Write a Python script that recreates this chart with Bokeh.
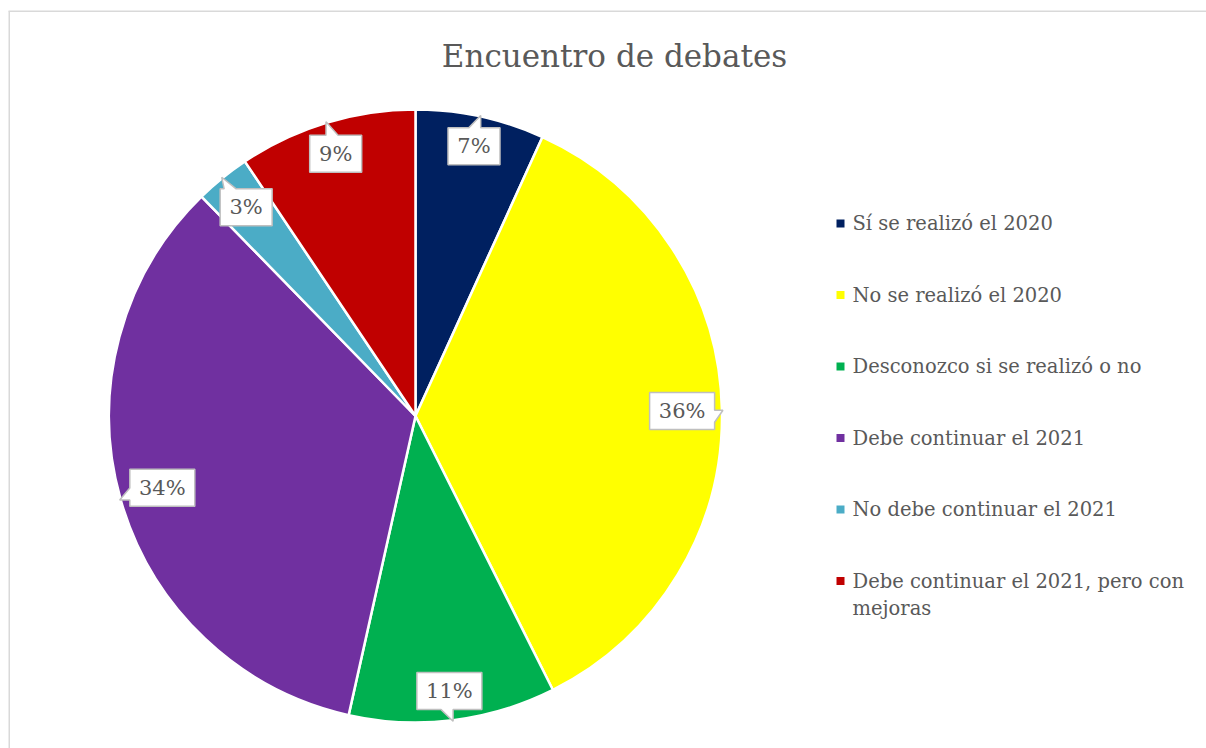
import math
from bokeh.plotting import figure
from bokeh.models import Range1d, ColumnDataSource
from bokeh.core.properties import value
from bokeh.embed import file_html
from bokeh.resources import INLINE

# ---------------- data ----------------
title_text = "Encuentro de debates"
categories = [
    "Sí se realizó el 2020",
    "No se realizó el 2020",
    "Desconozco si se realizó o no",
    "Debe continuar el 2021",
    "No debe continuar el 2021",
    "Debe continuar el 2021, pero con\nmejoras",
]
values = [6.8, 35.8, 10.9, 34.2, 2.9, 9.4]
colors = ["#002060", "#FFFF00", "#00B050", "#7030A0", "#4BACC6", "#C00000"]

# ---------------- style ----------------
FONT = "DejaVu Serif"
TEXT_COLOR = "#595959"
W, H = 1206, 748


def Y(ys):
    # convert page (screen) y to data y
    return H - ys


p = figure(width=W, height=H, x_range=Range1d(0, W), y_range=Range1d(0, H),
           output_backend="svg", toolbar_location=None,
           x_axis_type=None, y_axis_type=None, min_border=0)
p.min_border_left = p.min_border_right = p.min_border_top = p.min_border_bottom = 0
p.outline_line_color = None
p.grid.grid_line_color = None
p.background_fill_color = "white"
p.border_fill_color = "white"

# chart-area border (top and left visible)
p.segment(x0=[8, 8.75], y0=[Y(10.75), Y(10.75)], x1=[W, 8.75], y1=[Y(10.75), 0],
          line_color="#D9D9D9", line_width=1.5)

# ---------------- pie ----------------
cx, cy, R = 415.0, Y(415.5), 306.5
total = float(sum(values))
cum = [0.0]
for v in values:
    cum.append(cum[-1] + v)
starts = [math.pi / 2 - 2 * math.pi * cum[i] / total for i in range(len(values))]
ends = [math.pi / 2 - 2 * math.pi * cum[i + 1] / total for i in range(len(values))]

src = ColumnDataSource(dict(start=starts, end=ends, color=colors, cat=categories))
p.wedge(x=cx, y=cy, radius=R, start_angle="start", end_angle="end", direction="clock",
        fill_color="color", line_color="white", line_width=2.5, source=src)

# ---------------- callout labels ----------------
bxs, bys, texts, pxs, pys = [], [], [], [], []
BH = 37
for i, v in enumerate(values):
    txt = f"{round(v / total * 100)}%"
    bw = 26 + 13 * len(txt)
    th = 2 * math.pi * (cum[i] + v / 2) / total
    ux, uy = math.sin(th), math.cos(th)
    he = abs(ux) * bw / 2 + abs(uy) * BH / 2
    r = R - 7 - he
    bx, by = cx + r * ux, cy + r * uy
    tx, ty = cx + (R + 1) * ux, cy + (R + 1) * uy
    L, Rr, B, T = bx - bw / 2, bx + bw / 2, by - BH / 2, by + BH / 2
    s = 12
    top_edge = abs(uy) * bw / 2 >= abs(ux) * BH / 2
    if top_edge:
        if tx > bx:
            a = min(max(tx, L + 4 + s), Rr - 4)
            lo, hi = a - s, a
        else:
            a = min(max(tx, L + 4), Rr - 4 - s)
            lo, hi = a, a + s
        if uy > 0:  # top
            pts = [(L, T), (lo, T), (tx, ty), (hi, T), (Rr, T), (Rr, B), (L, B)]
        else:  # bottom
            pts = [(L, T), (Rr, T), (Rr, B), (hi, B), (tx, ty), (lo, B), (L, B)]
    else:
        if ty > by:
            a = min(max(ty, B + 4 + s), T - 4)
            lo, hi = a - s, a
        else:
            a = min(max(ty, B + 4), T - 4 - s)
            lo, hi = a, a + s
        if ux > 0:  # right
            pts = [(L, T), (Rr, T), (Rr, hi), (tx, ty), (Rr, lo), (Rr, B), (L, B)]
        else:  # left
            pts = [(L, T), (Rr, T), (Rr, B), (L, B), (L, lo), (tx, ty), (L, hi)]
    pxs.append([q[0] for q in pts])
    pys.append([q[1] for q in pts])
    bxs.append(bx)
    bys.append(by)
    texts.append(txt)

p.patches(xs=pxs, ys=pys, fill_color="white", line_color="#BFBFBF", line_width=1.5)
p.text(x=bxs, y=bys, text=texts, text_font=value(FONT), text_font_size="21px",
       text_color=TEXT_COLOR, text_align="center", text_baseline="middle")

# ---------------- title ----------------
p.text(x=[614], y=[Y(55)], text=[title_text], text_font=value(FONT), text_font_size="31px",
       text_color=TEXT_COLOR, text_align="center", text_baseline="middle")

# ---------------- legend ----------------
LEG_Y0, LEG_STEP, LINE_H = 223.0, 71.5, 27.0
sq_x, sq_y, lx, ly, lt = [], [], [], [], []
for i, (c, lab) in enumerate(zip(colors, categories)):
    yy = LEG_Y0 + i * LEG_STEP
    sq_x.append(840)
    sq_y.append(Y(yy))
    for j, line in enumerate(lab.split("\n")):
        lx.append(852)
        ly.append(Y(yy + j * LINE_H))
        lt.append(line)
p.scatter(x=sq_x, y=sq_y, marker="square", size=8, fill_color=colors, line_color=None)
p.text(x=lx, y=ly, text=lt, text_font=value(FONT), text_font_size="19.5px",
       text_color=TEXT_COLOR, text_align="left", text_baseline="middle")

open("out.html", "w").write(file_html(p, INLINE))
